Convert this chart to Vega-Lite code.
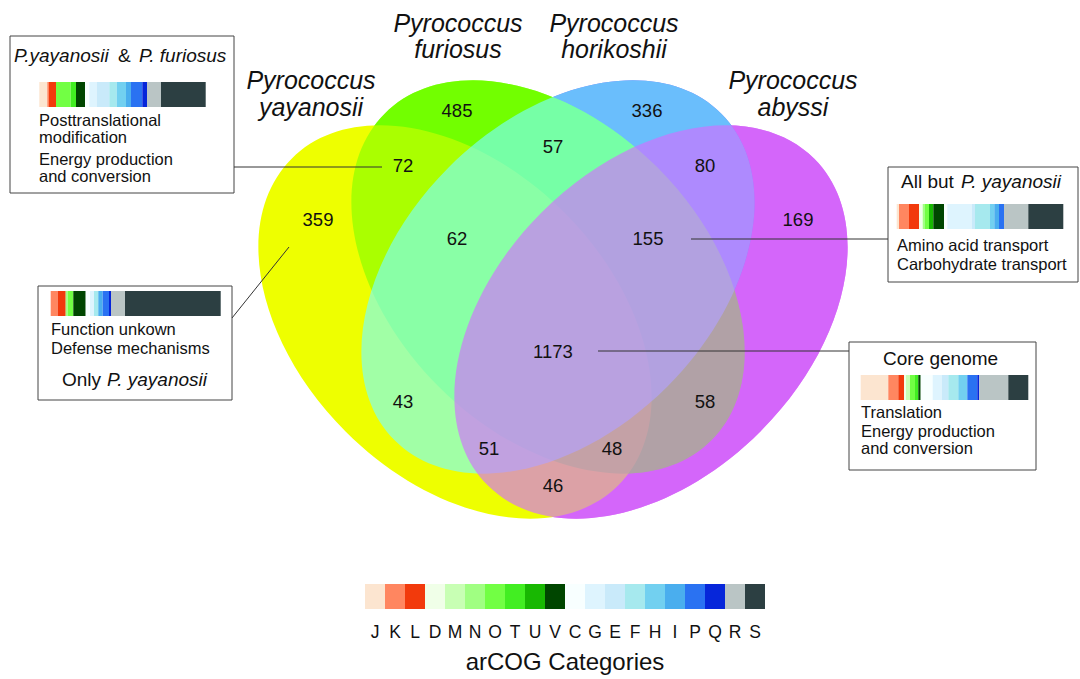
{
  "$schema": "https://vega.github.io/schema/vega-lite/v6.json",
  "width": 1080,
  "height": 679,
  "autosize": "none",
  "padding": 0,
  "background": "white",
  "config": {"view": {"stroke": null}, "font": "Liberation Sans"},
  "datasets": {
    "ellipses": [
      {"set": "abyssi", "x": 651, "y": 322},
      {"set": "horikoshii", "x": 558, "y": 277},
      {"set": "furiosus", "x": 548, "y": 277},
      {"set": "yayanosii", "x": 455, "y": 322}
    ],
    "counts": [
      {"label": "485", "x": 457, "y": 111},
      {"label": "336", "x": 647, "y": 111},
      {"label": "57", "x": 553, "y": 147},
      {"label": "72", "x": 403, "y": 166},
      {"label": "80", "x": 705, "y": 166},
      {"label": "359", "x": 318, "y": 220},
      {"label": "169", "x": 798, "y": 220},
      {"label": "62", "x": 457, "y": 239},
      {"label": "155", "x": 648, "y": 239},
      {"label": "1173", "x": 553, "y": 352},
      {"label": "43", "x": 403, "y": 402},
      {"label": "58", "x": 705, "y": 402},
      {"label": "51", "x": 489, "y": 449},
      {"label": "48", "x": 612, "y": 449},
      {"label": "46", "x": 553, "y": 486}
    ],
    "species": [
      {"label": "Pyrococcus", "x": 458, "y": 32},
      {"label": "furiosus", "x": 458, "y": 58},
      {"label": "Pyrococcus", "x": 614, "y": 32},
      {"label": "horikoshii", "x": 614, "y": 58},
      {"label": "Pyrococcus", "x": 311, "y": 89},
      {"label": "yayanosii", "x": 311, "y": 116},
      {"label": "Pyrococcus", "x": 793, "y": 89},
      {"label": "abyssi", "x": 793, "y": 116}
    ],
    "boxes": [
      {"x0": 10, "x1": 234, "y0": 36, "y1": 193},
      {"x0": 38, "x1": 232, "y0": 286, "y1": 400},
      {"x0": 888, "x1": 1078, "y0": 167, "y1": 282},
      {"x0": 849, "x1": 1036, "y0": 342, "y1": 470}
    ],
    "lines": [
      {"x": 234, "y": 167, "x2": 382, "y2": 167},
      {"x": 232, "y": 318, "x2": 289, "y2": 247},
      {"x": 691, "y": 239, "x2": 888, "y2": 239},
      {"x": 598, "y": 351, "x2": 849, "y2": 351}
    ],
    "titles": [
      {"label": "&", "x": 118, "y": 62},
      {"label": "All but", "x": 901, "y": 188},
      {"label": "Core genome", "x": 883, "y": 365},
      {"label": "Only", "x": 62, "y": 386}
    ],
    "titlesItalic": [
      {"label": "P.yayanosii", "x": 14, "y": 62},
      {"label": "P. furiosus", "x": 139, "y": 62},
      {"label": "P. yayanosii", "x": 961, "y": 188},
      {"label": "P. yayanosii", "x": 107, "y": 386}
    ],
    "body": [
      {"label": "Posttranslational", "x": 39, "y": 126},
      {"label": "modification", "x": 39, "y": 143},
      {"label": "Energy production", "x": 39, "y": 165},
      {"label": "and conversion", "x": 39, "y": 182},
      {"label": "Function unkown", "x": 51, "y": 335},
      {"label": "Defense mechanisms", "x": 51, "y": 354},
      {"label": "Amino acid transport", "x": 897, "y": 251},
      {"label": "Carbohydrate transport", "x": 897, "y": 270},
      {"label": "Translation", "x": 861, "y": 418},
      {"label": "Energy production", "x": 861, "y": 437},
      {"label": "and conversion", "x": 861, "y": 454}
    ],
    "segments": [
      {"box": "pyf", "cat": "J", "x0": 39.3, "x1": 47.3, "y0": 82, "y1": 107},
      {"box": "pyf", "cat": "K", "x0": 47.3, "x1": 49, "y0": 82, "y1": 107},
      {"box": "pyf", "cat": "L", "x0": 49, "x1": 56, "y0": 82, "y1": 107},
      {"box": "pyf", "cat": "O", "x0": 56, "x1": 70.7, "y0": 82, "y1": 107},
      {"box": "pyf", "cat": "T", "x0": 70.7, "x1": 76, "y0": 82, "y1": 107},
      {"box": "pyf", "cat": "V", "x0": 76, "x1": 85, "y0": 82, "y1": 107},
      {"box": "pyf", "cat": "C", "x0": 85, "x1": 89.3, "y0": 82, "y1": 107},
      {"box": "pyf", "cat": "G", "x0": 89.3, "x1": 96.7, "y0": 82, "y1": 107},
      {"box": "pyf", "cat": "E", "x0": 96.7, "x1": 109.3, "y0": 82, "y1": 107},
      {"box": "pyf", "cat": "F", "x0": 109.3, "x1": 116.7, "y0": 82, "y1": 107},
      {"box": "pyf", "cat": "H", "x0": 116.7, "x1": 126, "y0": 82, "y1": 107},
      {"box": "pyf", "cat": "I", "x0": 126, "x1": 131, "y0": 82, "y1": 107},
      {"box": "pyf", "cat": "P", "x0": 131, "x1": 142.3, "y0": 82, "y1": 107},
      {"box": "pyf", "cat": "Q", "x0": 142.3, "x1": 147, "y0": 82, "y1": 107},
      {"box": "pyf", "cat": "R", "x0": 147, "x1": 161, "y0": 82, "y1": 107},
      {"box": "pyf", "cat": "S", "x0": 161, "x1": 205.7, "y0": 82, "y1": 107},
      {"box": "only", "cat": "K", "x0": 50.7, "x1": 57.7, "y0": 291, "y1": 316},
      {"box": "only", "cat": "L", "x0": 57.7, "x1": 65.7, "y0": 291, "y1": 316},
      {"box": "only", "cat": "N", "x0": 65.7, "x1": 67.7, "y0": 291, "y1": 316},
      {"box": "only", "cat": "O", "x0": 67.7, "x1": 73.3, "y0": 291, "y1": 316},
      {"box": "only", "cat": "V", "x0": 73.3, "x1": 85.7, "y0": 291, "y1": 316},
      {"box": "only", "cat": "C", "x0": 85.7, "x1": 90, "y0": 291, "y1": 316},
      {"box": "only", "cat": "G", "x0": 90, "x1": 94, "y0": 291, "y1": 316},
      {"box": "only", "cat": "F", "x0": 94, "x1": 98.3, "y0": 291, "y1": 316},
      {"box": "only", "cat": "I", "x0": 98.3, "x1": 102.7, "y0": 291, "y1": 316},
      {"box": "only", "cat": "P", "x0": 102.7, "x1": 109, "y0": 291, "y1": 316},
      {"box": "only", "cat": "Q", "x0": 109, "x1": 111, "y0": 291, "y1": 316},
      {"box": "only", "cat": "R", "x0": 111, "x1": 125, "y0": 291, "y1": 316},
      {"box": "only", "cat": "S", "x0": 125, "x1": 220.7, "y0": 291, "y1": 316},
      {"box": "allbut", "cat": "J", "x0": 896.7, "x1": 899, "y0": 204, "y1": 229},
      {"box": "allbut", "cat": "K", "x0": 899, "x1": 909, "y0": 204, "y1": 229},
      {"box": "allbut", "cat": "L", "x0": 909, "x1": 919, "y0": 204, "y1": 229},
      {"box": "allbut", "cat": "D", "x0": 919, "x1": 922.7, "y0": 204, "y1": 229},
      {"box": "allbut", "cat": "N", "x0": 922.7, "x1": 925, "y0": 204, "y1": 229},
      {"box": "allbut", "cat": "O", "x0": 925, "x1": 929, "y0": 204, "y1": 229},
      {"box": "allbut", "cat": "U", "x0": 929, "x1": 933.3, "y0": 204, "y1": 229},
      {"box": "allbut", "cat": "V", "x0": 933.3, "x1": 944, "y0": 204, "y1": 229},
      {"box": "allbut", "cat": "C", "x0": 944, "x1": 947.3, "y0": 204, "y1": 229},
      {"box": "allbut", "cat": "G", "x0": 947.3, "x1": 971.7, "y0": 204, "y1": 229},
      {"box": "allbut", "cat": "E", "x0": 971.7, "x1": 975, "y0": 204, "y1": 229},
      {"box": "allbut", "cat": "F", "x0": 975, "x1": 990, "y0": 204, "y1": 229},
      {"box": "allbut", "cat": "H", "x0": 990, "x1": 994.3, "y0": 204, "y1": 229},
      {"box": "allbut", "cat": "I", "x0": 994.3, "x1": 999, "y0": 204, "y1": 229},
      {"box": "allbut", "cat": "P", "x0": 999, "x1": 1004, "y0": 204, "y1": 229},
      {"box": "allbut", "cat": "R", "x0": 1004, "x1": 1028.3, "y0": 204, "y1": 229},
      {"box": "allbut", "cat": "S", "x0": 1028.3, "x1": 1063.3, "y0": 204, "y1": 229},
      {"box": "core", "cat": "J", "x0": 860.7, "x1": 888.3, "y0": 375, "y1": 400},
      {"box": "core", "cat": "K", "x0": 888.3, "x1": 898.3, "y0": 375, "y1": 400},
      {"box": "core", "cat": "L", "x0": 898.3, "x1": 904, "y0": 375, "y1": 400},
      {"box": "core", "cat": "D", "x0": 904, "x1": 906, "y0": 375, "y1": 400},
      {"box": "core", "cat": "M", "x0": 906, "x1": 910, "y0": 375, "y1": 400},
      {"box": "core", "cat": "O", "x0": 910, "x1": 915, "y0": 375, "y1": 400},
      {"box": "core", "cat": "T", "x0": 915, "x1": 918.3, "y0": 375, "y1": 400},
      {"box": "core", "cat": "V", "x0": 918.3, "x1": 920.7, "y0": 375, "y1": 400},
      {"box": "core", "cat": "C", "x0": 920.7, "x1": 932.7, "y0": 375, "y1": 400},
      {"box": "core", "cat": "G", "x0": 932.7, "x1": 941.7, "y0": 375, "y1": 400},
      {"box": "core", "cat": "E", "x0": 941.7, "x1": 948.3, "y0": 375, "y1": 400},
      {"box": "core", "cat": "F", "x0": 948.3, "x1": 958.3, "y0": 375, "y1": 400},
      {"box": "core", "cat": "H", "x0": 958.3, "x1": 967.3, "y0": 375, "y1": 400},
      {"box": "core", "cat": "P", "x0": 967.3, "x1": 977.3, "y0": 375, "y1": 400},
      {"box": "core", "cat": "Q", "x0": 977.3, "x1": 979.3, "y0": 375, "y1": 400},
      {"box": "core", "cat": "R", "x0": 979.3, "x1": 1008.3, "y0": 375, "y1": 400},
      {"box": "core", "cat": "S", "x0": 1008.3, "x1": 1028.3, "y0": 375, "y1": 400},
      {"box": "legend", "cat": "J", "x0": 365, "x1": 385, "y0": 584, "y1": 609},
      {"box": "legend", "cat": "K", "x0": 385, "x1": 405, "y0": 584, "y1": 609},
      {"box": "legend", "cat": "L", "x0": 405, "x1": 425, "y0": 584, "y1": 609},
      {"box": "legend", "cat": "D", "x0": 425, "x1": 445, "y0": 584, "y1": 609},
      {"box": "legend", "cat": "M", "x0": 445, "x1": 465, "y0": 584, "y1": 609},
      {"box": "legend", "cat": "N", "x0": 465, "x1": 485, "y0": 584, "y1": 609},
      {"box": "legend", "cat": "O", "x0": 485, "x1": 505, "y0": 584, "y1": 609},
      {"box": "legend", "cat": "T", "x0": 505, "x1": 525, "y0": 584, "y1": 609},
      {"box": "legend", "cat": "U", "x0": 525, "x1": 545, "y0": 584, "y1": 609},
      {"box": "legend", "cat": "V", "x0": 545, "x1": 565, "y0": 584, "y1": 609},
      {"box": "legend", "cat": "C", "x0": 565, "x1": 585, "y0": 584, "y1": 609},
      {"box": "legend", "cat": "G", "x0": 585, "x1": 605, "y0": 584, "y1": 609},
      {"box": "legend", "cat": "E", "x0": 605, "x1": 625, "y0": 584, "y1": 609},
      {"box": "legend", "cat": "F", "x0": 625, "x1": 645, "y0": 584, "y1": 609},
      {"box": "legend", "cat": "H", "x0": 645, "x1": 665, "y0": 584, "y1": 609},
      {"box": "legend", "cat": "I", "x0": 665, "x1": 685, "y0": 584, "y1": 609},
      {"box": "legend", "cat": "P", "x0": 685, "x1": 705, "y0": 584, "y1": 609},
      {"box": "legend", "cat": "Q", "x0": 705, "x1": 725, "y0": 584, "y1": 609},
      {"box": "legend", "cat": "R", "x0": 725, "x1": 745, "y0": 584, "y1": 609},
      {"box": "legend", "cat": "S", "x0": 745, "x1": 765, "y0": 584, "y1": 609}
    ],
    "letters": [
      {"label": "J", "x": 375, "y": 638}, {"label": "K", "x": 395, "y": 638},
      {"label": "L", "x": 415, "y": 638}, {"label": "D", "x": 435, "y": 638},
      {"label": "M", "x": 455, "y": 638}, {"label": "N", "x": 475, "y": 638},
      {"label": "O", "x": 495, "y": 638}, {"label": "T", "x": 515, "y": 638},
      {"label": "U", "x": 535, "y": 638}, {"label": "V", "x": 555, "y": 638},
      {"label": "C", "x": 575, "y": 638}, {"label": "G", "x": 595, "y": 638},
      {"label": "E", "x": 615, "y": 638}, {"label": "F", "x": 635, "y": 638},
      {"label": "H", "x": 655, "y": 638}, {"label": "I", "x": 675, "y": 638},
      {"label": "P", "x": 695, "y": 638}, {"label": "Q", "x": 715, "y": 638},
      {"label": "R", "x": 735, "y": 638}, {"label": "S", "x": 755, "y": 638}
    ],
    "legendTitle": [{"label": "arCOG Categories", "x": 565, "y": 670}]
  },
  "layer": [
    {
      "data": {"name": "ellipses"},
      "transform": [{"filter": {"field": "set", "equal": "abyssi"}}],
      "mark": {"type": "point", "shape": "M -1 0 A 1 0.67 0 1 1 1 0 A 1 0.67 0 1 1 -1 0 Z", "size": 213444, "angle": -45, "filled": true, "opacity": 1, "strokeWidth": 0, "color": "#D857F1"},
      "encoding": {
        "x": {"field": "x", "type": "quantitative", "scale": {"domain": [0, 1080], "nice": false, "zero": false}, "axis": null},
        "y": {"field": "y", "type": "quantitative", "scale": {"domain": [0, 679], "reverse": true, "nice": false, "zero": false}, "axis": null}
      }
    },
    {
      "data": {"name": "ellipses"},
      "transform": [{"filter": {"field": "set", "equal": "horikoshii"}}],
      "mark": {"type": "point", "shape": "M -1 0 A 1 0.67 0 1 1 1 0 A 1 0.67 0 1 1 -1 0 Z", "size": 213444, "angle": -45, "filled": true, "opacity": 1, "strokeWidth": 0, "color": "#5045F6"},
      "encoding": {
        "x": {"field": "x", "type": "quantitative", "axis": null},
        "y": {"field": "y", "type": "quantitative", "axis": null}
      }
    },
    {
      "data": {"name": "ellipses"},
      "transform": [{"filter": {"field": "set", "equal": "furiosus"}}],
      "mark": {"type": "point", "shape": "M -1 0 A 1 0.67 0 1 1 1 0 A 1 0.67 0 1 1 -1 0 Z", "size": 213444, "angle": 45, "filled": true, "opacity": 1, "strokeWidth": 0, "color": "#72FF00"},
      "encoding": {
        "x": {"field": "x", "type": "quantitative", "axis": null},
        "y": {"field": "y", "type": "quantitative", "axis": null}
      }
    },
    {
      "data": {"name": "ellipses"},
      "transform": [{"filter": {"field": "set", "equal": "yayanosii"}}],
      "mark": {"type": "point", "shape": "M -1 0 A 1 0.67 0 1 1 1 0 A 1 0.67 0 1 1 -1 0 Z", "size": 213444, "angle": 45, "filled": true, "opacity": 1, "strokeWidth": 0, "color": "#EEFF00"},
      "encoding": {
        "x": {"field": "x", "type": "quantitative", "axis": null},
        "y": {"field": "y", "type": "quantitative", "axis": null}
      }
    },
    {
      "data": {"name": "ellipses"},
      "transform": [{"filter": {"field": "set", "equal": "furiosus"}}],
      "mark": {"type": "point", "shape": "M -1 0 A 1 0.67 0 1 1 1 0 A 1 0.67 0 1 1 -1 0 Z", "size": 213444, "angle": 45, "filled": true, "opacity": 0.55, "strokeWidth": 0, "color": "#72FF00"},
      "encoding": {
        "x": {"field": "x", "type": "quantitative", "axis": null},
        "y": {"field": "y", "type": "quantitative", "axis": null}
      }
    },
    {
      "data": {"name": "ellipses"},
      "transform": [{"filter": {"field": "set", "equal": "horikoshii"}}],
      "mark": {"type": "point", "shape": "M -1 0 A 1 0.67 0 1 1 1 0 A 1 0.67 0 1 1 -1 0 Z", "size": 213444, "angle": -45, "filled": true, "opacity": 0.65, "strokeWidth": 0, "color": "#78FFFF"},
      "encoding": {
        "x": {"field": "x", "type": "quantitative", "axis": null},
        "y": {"field": "y", "type": "quantitative", "axis": null}
      }
    },
    {
      "data": {"name": "ellipses"},
      "transform": [{"filter": {"field": "set", "equal": "abyssi"}}],
      "mark": {"type": "point", "shape": "M -1 0 A 1 0.67 0 1 1 1 0 A 1 0.67 0 1 1 -1 0 Z", "size": 213444, "angle": -45, "filled": true, "opacity": 0.65, "strokeWidth": 0, "color": "#D26EFF"},
      "encoding": {
        "x": {"field": "x", "type": "quantitative", "axis": null},
        "y": {"field": "y", "type": "quantitative", "axis": null}
      }
    },
    {
      "data": {"name": "boxes"},
      "mark": {"type": "rect", "fill": "white", "stroke": "#444444", "strokeWidth": 1},
      "encoding": {
        "x": {"field": "x0", "type": "quantitative", "axis": null},
        "x2": {"field": "x1"},
        "y": {"field": "y0", "type": "quantitative", "axis": null},
        "y2": {"field": "y1"}
      }
    },
    {
      "data": {"name": "lines"},
      "mark": {"type": "rule", "stroke": "#333333", "strokeWidth": 1},
      "encoding": {
        "x": {"field": "x", "type": "quantitative", "axis": null},
        "x2": {"field": "x2"},
        "y": {"field": "y", "type": "quantitative", "axis": null},
        "y2": {"field": "y2"}
      }
    },
    {
      "data": {"name": "segments"},
      "mark": {"type": "rect", "strokeWidth": 0},
      "encoding": {
        "x": {"field": "x0", "type": "quantitative", "axis": null},
        "x2": {"field": "x1"},
        "y": {"field": "y0", "type": "quantitative", "axis": null},
        "y2": {"field": "y1"},
        "color": {"field": "cat", "type": "nominal", "legend": null,
          "scale": {"domain": ["J", "K", "L", "D", "M", "N", "O", "T", "U", "V", "C", "G", "E", "F", "H", "I", "P", "Q", "R", "S"],
                    "range": ["#FCE5D0", "#FF8660", "#F23A0C", "#F0FFE8", "#C8FFB4", "#A0FF82", "#72FF44", "#42EE22", "#18B802", "#004600", "#F8FFFF", "#DEF4FE", "#C9EAFA", "#A6E9EE", "#72D0F0", "#4AAEEE", "#2A72F2", "#0626DA", "#BAC5C5", "#2C3F42"]}}
      }
    },
    {
      "data": {"name": "counts"},
      "mark": {"type": "text", "fontSize": 18.5, "align": "center", "baseline": "middle", "color": "#111111"},
      "encoding": {
        "x": {"field": "x", "type": "quantitative", "axis": null},
        "y": {"field": "y", "type": "quantitative", "axis": null},
        "text": {"field": "label"}
      }
    },
    {
      "data": {"name": "species"},
      "mark": {"type": "text", "fontSize": 25, "fontStyle": "italic", "align": "center", "baseline": "alphabetic", "color": "#111111"},
      "encoding": {
        "x": {"field": "x", "type": "quantitative", "axis": null},
        "y": {"field": "y", "type": "quantitative", "axis": null},
        "text": {"field": "label"}
      }
    },
    {
      "data": {"name": "titles"},
      "mark": {"type": "text", "fontSize": 19, "align": "left", "baseline": "alphabetic", "color": "#111111"},
      "encoding": {
        "x": {"field": "x", "type": "quantitative", "axis": null},
        "y": {"field": "y", "type": "quantitative", "axis": null},
        "text": {"field": "label"}
      }
    },
    {
      "data": {"name": "titlesItalic"},
      "mark": {"type": "text", "fontSize": 19, "fontStyle": "italic", "align": "left", "baseline": "alphabetic", "color": "#111111"},
      "encoding": {
        "x": {"field": "x", "type": "quantitative", "axis": null},
        "y": {"field": "y", "type": "quantitative", "axis": null},
        "text": {"field": "label"}
      }
    },
    {
      "data": {"name": "body"},
      "mark": {"type": "text", "fontSize": 16.5, "align": "left", "baseline": "alphabetic", "color": "#111111"},
      "encoding": {
        "x": {"field": "x", "type": "quantitative", "axis": null},
        "y": {"field": "y", "type": "quantitative", "axis": null},
        "text": {"field": "label"}
      }
    },
    {
      "data": {"name": "letters"},
      "mark": {"type": "text", "fontSize": 17.5, "align": "center", "baseline": "alphabetic", "color": "#111111"},
      "encoding": {
        "x": {"field": "x", "type": "quantitative", "axis": null},
        "y": {"field": "y", "type": "quantitative", "axis": null},
        "text": {"field": "label"}
      }
    },
    {
      "data": {"name": "legendTitle"},
      "mark": {"type": "text", "fontSize": 24, "align": "center", "baseline": "alphabetic", "color": "#111111"},
      "encoding": {
        "x": {"field": "x", "type": "quantitative", "axis": null},
        "y": {"field": "y", "type": "quantitative", "axis": null},
        "text": {"field": "label"}
      }
    }
  ]
}
